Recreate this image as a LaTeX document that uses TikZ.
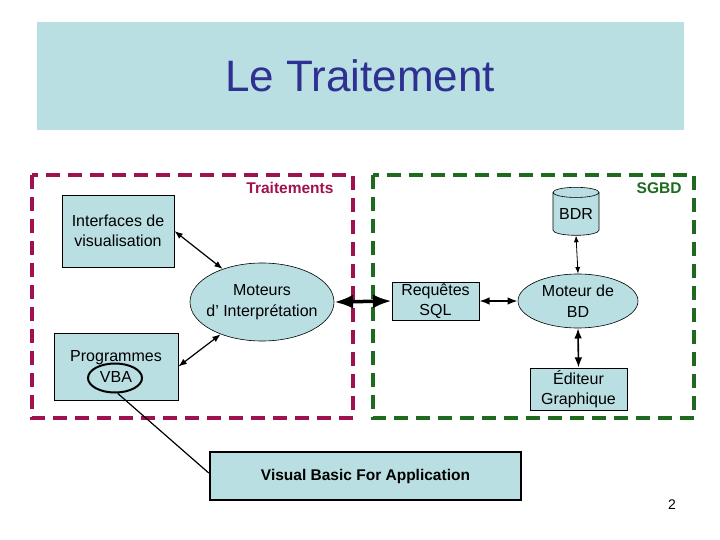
\documentclass[tikz,border=0pt]{standalone}
\usepackage{fontspec}
\setmainfont{Liberation Sans}
\usetikzlibrary{arrows.meta}
\usetikzlibrary{shapes.geometric}
\definecolor{paleblue}{HTML}{B9DFE3}
\definecolor{titleblue}{HTML}{2E3192}
\definecolor{crimson}{HTML}{9E1250}
\definecolor{sgbdgreen}{HTML}{1E6A1E}

\begin{document}
\begin{tikzpicture}[x=1pt,y=-1pt,
        box/.style={draw=black, line width=0.8pt, fill=paleblue, align=center, font=\fontsize{16}{20.5}\selectfont, inner sep=0pt},
        oval/.style={ellipse, draw=black, line width=0.6pt, fill=paleblue, align=center, font=\fontsize{16}{20.5}\selectfont, inner sep=0pt},
        link/.style={Latex-Latex, line width=1.2pt},
        zone/.style={line width=4pt, dash pattern=on 14pt off 8pt}]
                \useasboundingbox (0,0) rectangle (720,540);

                % title
                \fill[paleblue] (37,22) rectangle (684,130);
                \node[text=titleblue, font=\fontsize{44}{50}\selectfont] (title) at (360,76) {Le Traitement};

                % zones
                \draw[zone, color=crimson] (32,175) rectangle (353,418);
                \draw[zone, color=sgbdgreen] (373,175) rectangle (694,418);
                \node[anchor=east, text=crimson, font=\bfseries\fontsize{15.5}{18}\selectfont] (trait) at (337,188) {Traitements};
                \node[anchor=east, text=sgbdgreen, font=\bfseries\fontsize{15.5}{18}\selectfont] (sgbd) at (685,188) {SGBD};

                % traitements
                \node[box, minimum width=112, minimum height=72] (iface) at (118,231) {Interfaces de\\visualisation};
                \node[box, minimum width=124, minimum height=67] (prog) at (116,366.5) {Programmes\\VBA};
                \node[oval, inner xsep=-15pt, minimum width=144, minimum height=78] (moteurs) at (262,302) {Moteurs\\d’ Interprétation};
                \node[ellipse, draw=black, line width=2pt, minimum width=54, minimum height=29] (vbaring) at (115,378) {};

                % sgbd
                \node[box, minimum width=87, minimum height=38, font=\fontsize{16}{19.5}\selectfont] (sql) at (435.5,301) {Requêtes\\SQL};
                \node[oval, inner xsep=-6pt, minimum width=120, minimum height=54] (moteurbd) at (578,301) {Moteur de\\BD};
                \node[cylinder, shape border rotate=90, aspect=0.3, draw=black, line width=0.6pt, fill=paleblue,
                      minimum width=46, minimum height=48, inner sep=0pt, font=\fontsize{16}{20}\selectfont] (bdr) at (576,214) {BDR};
                \node[box, minimum width=97, minimum height=42] (editeur) at (578.5,389) {Éditeur\\Graphique};

                % vba
                \node[box, line width=2.5pt, minimum width=311, minimum height=48, font=\bfseries\fontsize{15.5}{18}\selectfont] (vba) at (365.5,476) {Visual Basic For Application};
                \node[font=\fontsize{14}{16}\selectfont] (page) at (672,505) {2};

                % arrows
                \draw[link] (iface.east) -- (moteurs.140);
                \draw[link] (prog.east) -- (moteurs.218);
                \draw[Latex-Latex, line width=3.5pt] (moteurs.east) -- (sql.west);
                \draw[link, line width=1.6pt] (sql.east) -- (moteurbd.west);
                \draw[Latex-Latex, line width=0.8pt] (bdr.south) -- (moteurbd.north);
                \draw[link, line width=1.6pt] (moteurbd.south) -- (editeur.north);
                \draw[line width=1.2pt] (vbaring.-80) -- (vba.west |- 0,473);

            \end{tikzpicture}
\end{document}
